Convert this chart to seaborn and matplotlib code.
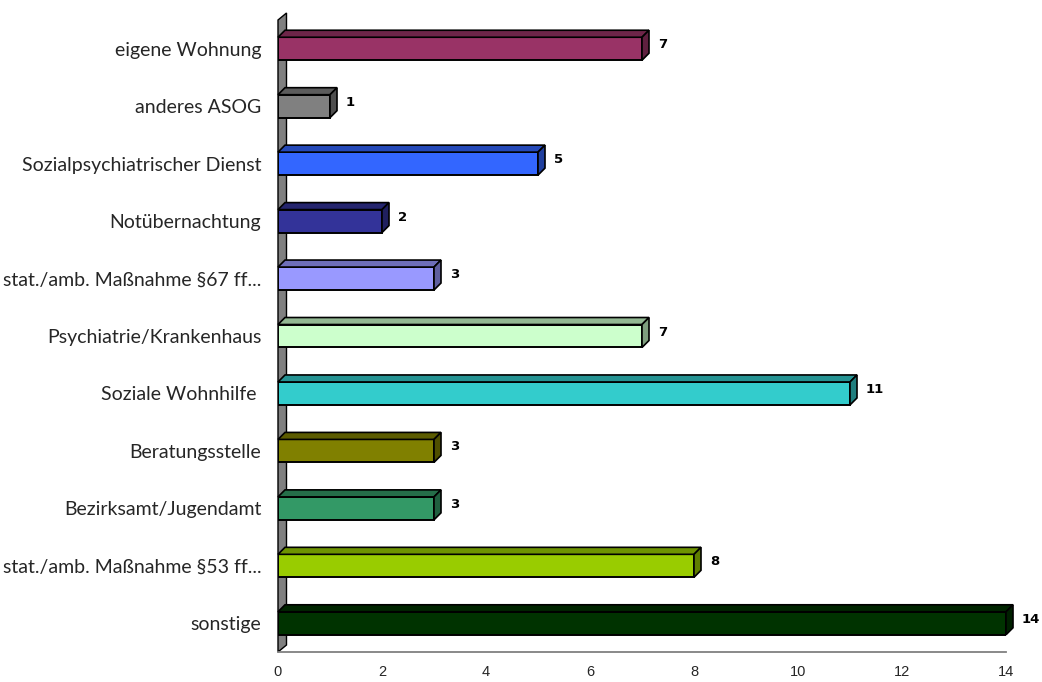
import matplotlib
matplotlib.use("Agg")
import matplotlib.pyplot as plt
import matplotlib.colors as mcolors
from matplotlib.patches import Polygon
import seaborn as sns
import pandas as pd
import numpy as np

categories = [
    "eigene Wohnung",
    "anderes ASOG",
    "Sozialpsychiatrischer Dienst",
    "Notübernachtung",
    "stat./amb. Maßnahme §67 ff...",
    "Psychiatrie/Krankenhaus",
    "Soziale Wohnhilfe ",
    "Beratungsstelle",
    "Bezirksamt/Jugendamt",
    "stat./amb. Maßnahme §53 ff...",
    "sonstige",
]
values = [7, 1, 5, 2, 3, 7, 11, 3, 3, 8, 14]
colors = ["#993366", "#808080", "#3366FF", "#333399", "#9999FF", "#CCFFCC",
          "#33CCCC", "#808000", "#339966", "#99CC00", "#003300"]
x_ticks = [0, 2, 4, 6, 8, 10, 12, 14]

sns.set_style("white")
plt.rcParams["font.family"] = ["DejaVu Sans"]

W, H = 1042, 682
fig = plt.figure(figsize=(W / 100, H / 100), dpi=100)
left_px, right_px, top_px, bot_px = 278, 1006, 20, 652
ax = fig.add_axes([left_px / W, 1 - bot_px / H, (right_px - left_px) / W, (bot_px - top_px) / H])

df = pd.DataFrame({"cat": categories, "val": values})
sns.barplot(data=df, x="val", y="cat", hue="cat", palette=colors, orient="h",
            width=0.4, edgecolor="black", linewidth=1.4, legend=False, ax=ax,
            saturation=1, zorder=3)

ax.set_xlim(0, 14)
ax.set_ylim(len(categories) - 0.5, -0.5)

px_x = ax.bbox.width / 14.0
px_y = ax.bbox.height / len(categories)
dx = 7.0 / px_x
dy = 7.0 / px_y
wdx = 8.5 / px_x

def darker(c, f=0.7):
    r, g, b = mcolors.to_rgb(c)
    return (r * f, g * f, b * f)

# wall
n = len(categories)
wall = Polygon([(0, n - 0.5), (0, -0.5), (wdx, -0.5 - dy), (wdx, n - 0.5 - dy)],
               closed=True, facecolor="#808080", edgecolor="black", linewidth=1.0,
               zorder=1, clip_on=False)
ax.add_patch(wall)

bars = list(ax.patches)
for p in bars:
    if p is wall:
        continue
    x0 = p.get_x()
    w = p.get_width()
    yt = p.get_y()
    h = p.get_height()
    yb = yt + h
    idx = int(round(yt + h / 2))
    col = colors[idx]
    top = Polygon([(x0, yt), (x0 + w, yt), (x0 + w + dx, yt - dy), (x0 + dx, yt - dy)],
                  closed=True, facecolor=darker(col, 0.72), edgecolor="black",
                  linewidth=1.2, zorder=3, clip_on=False)
    side = Polygon([(x0 + w, yt), (x0 + w + dx, yt - dy), (x0 + w + dx, yb - dy), (x0 + w, yb)],
                   closed=True, facecolor=darker(col, 0.62), edgecolor="black",
                   linewidth=1.2, zorder=3, clip_on=False)
    ax.add_patch(top)
    ax.add_patch(side)

for i, v in enumerate(values):
    ax.annotate(f"{v}", xy=(v, i), xytext=(7 + 9, 4), textcoords="offset pixels",
                ha="left", va="center", fontsize=9.5, fontweight="bold",
                color="black", annotation_clip=False)

# axes styling
for s in ["top", "right", "left"]:
    ax.spines[s].set_visible(False)
ax.spines["bottom"].set_color("#808080")
ax.spines["bottom"].set_linewidth(1.3)
ax.spines["bottom"].set_zorder(2)

ax.set_xticks(x_ticks)
ax.set_xticklabels([str(t) for t in x_ticks], fontfamily="Liberation Sans", fontsize=10.5)
ax.tick_params(axis="x", length=4, width=1, color="black", pad=5, direction="out")

ax.set_yticks(range(n))
ax.set_yticklabels(categories, fontfamily="Lato", fontsize=14)
ax.set_yticks(np.arange(-0.5, n, 1.0), minor=True)
ax.tick_params(axis="y", which="major", length=0, pad=12)
ax.tick_params(axis="y", which="minor", length=4.5, width=1, color="black", direction="out")
ax.set_xlabel("")
ax.set_ylabel("")
ax.grid(False)

fig.savefig("out.png", dpi=100)
